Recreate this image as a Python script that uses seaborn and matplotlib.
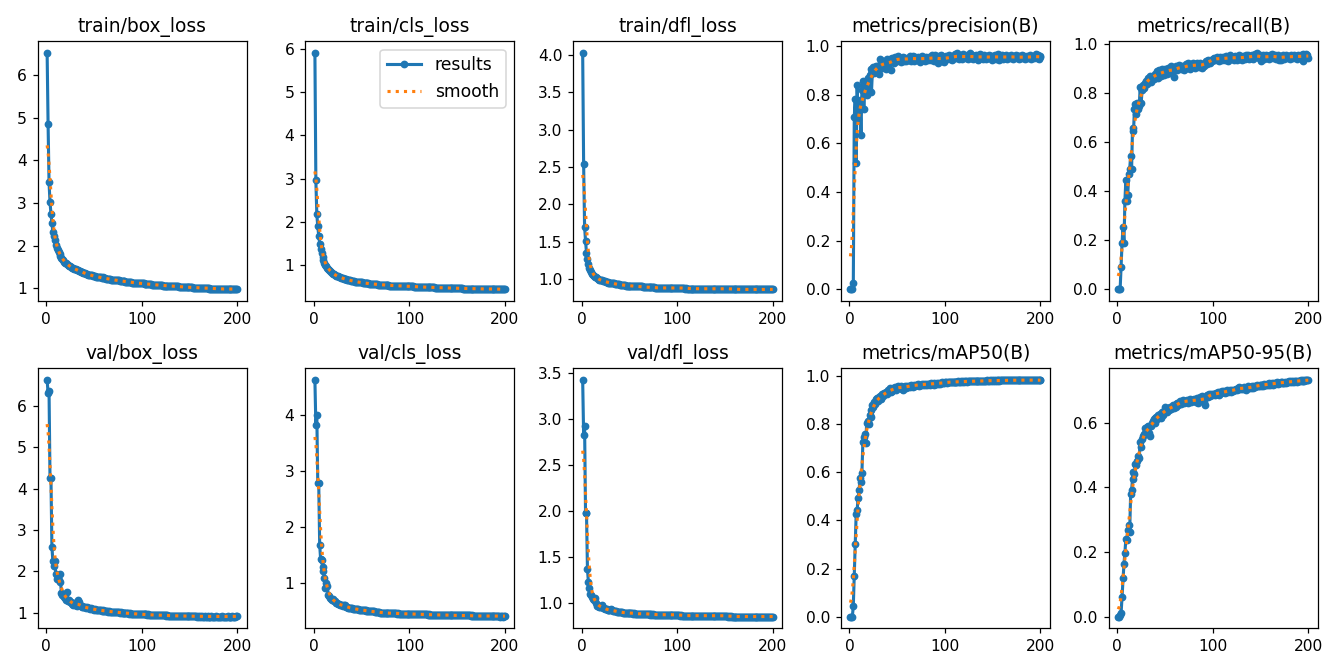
import numpy as np
import matplotlib
matplotlib.use("Agg")
import matplotlib.pyplot as plt
import seaborn as sns

epochs = list(range(1, 201))

train_box_loss = [
    6.52, 4.85, 3.48, 3.02, 2.75, 2.52, 2.32, 2.22, 2.12, 2.02,
    1.95, 1.89, 1.84, 1.79, 1.75, 1.71, 1.68, 1.65, 1.62, 1.60,
    1.58, 1.56, 1.54, 1.52, 1.51, 1.49, 1.48, 1.47, 1.46, 1.45,
    1.44, 1.43, 1.42, 1.41, 1.40, 1.39, 1.38, 1.37, 1.36, 1.35,
    1.35, 1.34, 1.33, 1.32, 1.32, 1.31, 1.30, 1.30, 1.29, 1.28,
    1.28, 1.27, 1.27, 1.26, 1.26, 1.25, 1.25, 1.24, 1.25, 1.24,
    1.23, 1.23, 1.22, 1.22, 1.22, 1.21, 1.21, 1.20, 1.20, 1.20,
    1.19, 1.19, 1.19, 1.18, 1.18, 1.18, 1.17, 1.17, 1.17, 1.16,
    1.16, 1.16, 1.15, 1.15, 1.15, 1.15, 1.14, 1.14, 1.14, 1.13,
    1.13, 1.13, 1.13, 1.12, 1.12, 1.12, 1.12, 1.11, 1.11, 1.11,
    1.11, 1.11, 1.10, 1.10, 1.10, 1.10, 1.09, 1.09, 1.09, 1.09,
    1.08, 1.08, 1.08, 1.08, 1.08, 1.07, 1.07, 1.07, 1.07, 1.07,
    1.07, 1.06, 1.06, 1.06, 1.06, 1.06, 1.05, 1.05, 1.05, 1.05,
    1.05, 1.05, 1.04, 1.04, 1.04, 1.04, 1.04, 1.04, 1.03, 1.03,
    1.03, 1.03, 1.03, 1.03, 1.03, 1.02, 1.02, 1.02, 1.02, 1.02,
    1.02, 1.02, 1.02, 1.01, 1.01, 1.01, 1.01, 1.01, 1.01, 1.01,
    1.01, 1.00, 1.00, 1.00, 1.00, 1.00, 1.00, 1.00, 1.00, 1.00,
    0.99, 0.99, 0.99, 0.99, 0.99, 0.99, 0.99, 0.99, 0.99, 0.99,
    0.99, 0.98, 0.98, 0.98, 0.98, 0.98, 0.98, 0.98, 0.98, 0.98,
    0.98, 0.98, 0.98, 0.98, 0.98, 0.98, 0.98, 0.97, 0.98, 0.98,
]

train_cls_loss = [
    5.90, 2.96, 2.17, 1.90, 1.68, 1.50, 1.38, 1.28, 1.19, 1.12,
    1.06, 1.01, 0.97, 0.94, 0.91, 0.88, 0.86, 0.84, 0.82, 0.80,
    0.79, 0.77, 0.76, 0.75, 0.74, 0.73, 0.72, 0.71, 0.71, 0.70,
    0.69, 0.68, 0.68, 0.67, 0.66, 0.66, 0.65, 0.65, 0.64, 0.64,
    0.63, 0.63, 0.62, 0.62, 0.62, 0.61, 0.61, 0.60, 0.60, 0.60,
    0.59, 0.59, 0.59, 0.58, 0.58, 0.58, 0.58, 0.57, 0.57, 0.57,
    0.57, 0.56, 0.56, 0.56, 0.56, 0.56, 0.55, 0.55, 0.55, 0.55,
    0.55, 0.55, 0.54, 0.54, 0.54, 0.54, 0.54, 0.54, 0.53, 0.53,
    0.53, 0.53, 0.53, 0.53, 0.53, 0.53, 0.52, 0.52, 0.52, 0.52,
    0.52, 0.52, 0.52, 0.52, 0.52, 0.51, 0.51, 0.51, 0.51, 0.51,
    0.51, 0.51, 0.51, 0.51, 0.50, 0.50, 0.50, 0.50, 0.50, 0.50,
    0.50, 0.50, 0.50, 0.50, 0.49, 0.49, 0.49, 0.49, 0.49, 0.49,
    0.49, 0.49, 0.49, 0.49, 0.49, 0.49, 0.48, 0.48, 0.48, 0.48,
    0.48, 0.48, 0.48, 0.48, 0.48, 0.48, 0.48, 0.48, 0.48, 0.47,
    0.47, 0.47, 0.47, 0.47, 0.47, 0.47, 0.47, 0.47, 0.47, 0.47,
    0.47, 0.47, 0.47, 0.47, 0.47, 0.46, 0.46, 0.46, 0.46, 0.46,
    0.46, 0.46, 0.46, 0.46, 0.46, 0.46, 0.46, 0.46, 0.46, 0.46,
    0.46, 0.46, 0.46, 0.45, 0.45, 0.45, 0.45, 0.45, 0.45, 0.45,
    0.45, 0.45, 0.45, 0.45, 0.45, 0.45, 0.45, 0.45, 0.45, 0.45,
    0.45, 0.45, 0.45, 0.45, 0.44, 0.44, 0.44, 0.44, 0.44, 0.44,
]

train_dfl_loss = [
    4.03, 2.54, 1.70, 1.51, 1.35, 1.27, 1.20, 1.15, 1.12, 1.09,
    1.07, 1.05, 1.04, 1.03, 1.02, 1.01, 1.00, 0.99, 0.99, 0.98,
    0.98, 0.97, 0.97, 0.97, 0.96, 0.96, 0.96, 0.95, 0.95, 0.95,
    0.94, 0.94, 0.94, 0.94, 0.93, 0.93, 0.93, 0.93, 0.93, 0.92,
    0.92, 0.92, 0.92, 0.92, 0.92, 0.91, 0.91, 0.91, 0.91, 0.91,
    0.91, 0.91, 0.91, 0.90, 0.90, 0.90, 0.90, 0.90, 0.90, 0.90,
    0.90, 0.90, 0.90, 0.89, 0.89, 0.89, 0.89, 0.89, 0.89, 0.89,
    0.89, 0.89, 0.89, 0.89, 0.89, 0.89, 0.88, 0.88, 0.88, 0.88,
    0.88, 0.88, 0.88, 0.88, 0.88, 0.88, 0.88, 0.88, 0.88, 0.88,
    0.88, 0.88, 0.88, 0.88, 0.88, 0.88, 0.88, 0.88, 0.88, 0.88,
    0.88, 0.88, 0.88, 0.88, 0.88, 0.88, 0.88, 0.87, 0.88, 0.87,
    0.87, 0.87, 0.87, 0.87, 0.87, 0.87, 0.87, 0.87, 0.87, 0.87,
    0.87, 0.87, 0.87, 0.87, 0.87, 0.87, 0.87, 0.87, 0.87, 0.87,
    0.87, 0.87, 0.87, 0.87, 0.87, 0.87, 0.87, 0.87, 0.87, 0.87,
    0.87, 0.87, 0.87, 0.87, 0.87, 0.87, 0.87, 0.87, 0.87, 0.87,
    0.87, 0.87, 0.87, 0.87, 0.87, 0.86, 0.87, 0.86, 0.87, 0.86,
    0.86, 0.86, 0.86, 0.86, 0.86, 0.86, 0.86, 0.86, 0.86, 0.86,
    0.86, 0.86, 0.86, 0.86, 0.86, 0.86, 0.86, 0.86, 0.86, 0.86,
    0.86, 0.86, 0.86, 0.86, 0.86, 0.86, 0.86, 0.86, 0.86, 0.86,
    0.86, 0.86, 0.86, 0.86, 0.86, 0.86, 0.86, 0.86, 0.86, 0.86,
]

precision = [
    0.000, 0.000, 0.000, 0.025, 0.708, 0.782, 0.520, 0.840, 0.700, 0.770,
    0.780, 0.635, 0.820, 0.855, 0.740, 0.830, 0.850, 0.800, 0.870, 0.820,
    0.880, 0.905, 0.810, 0.895, 0.915, 0.890, 0.912, 0.920, 0.900, 0.918,
    0.885, 0.948, 0.930, 0.910, 0.940, 0.932, 0.920, 0.905, 0.948, 0.935,
    0.930, 0.945, 0.902, 0.938, 0.950, 0.940, 0.932, 0.955, 0.945, 0.938,
    0.960, 0.942, 0.950, 0.935, 0.948, 0.955, 0.940, 0.952, 0.938, 0.946,
    0.950, 0.944, 0.958, 0.940, 0.952, 0.960, 0.945, 0.938, 0.955, 0.948,
    0.942, 0.956, 0.950, 0.936, 0.952, 0.958, 0.944, 0.950, 0.940, 0.955,
    0.948, 0.944, 0.956, 0.950, 0.942, 0.962, 0.948, 0.955, 0.940, 0.965,
    0.952, 0.945, 0.930, 0.958, 0.948, 0.962, 0.940, 0.955, 0.935, 0.950,
    0.958, 0.946, 0.952, 0.962, 0.948, 0.955, 0.944, 0.960, 0.952, 0.958,
    0.966, 0.950, 0.972, 0.955, 0.948, 0.962, 0.958, 0.945, 0.968, 0.955,
    0.960, 0.952, 0.965, 0.948, 0.958, 0.970, 0.950, 0.962, 0.945, 0.958,
    0.955, 0.965, 0.950, 0.960, 0.942, 0.958, 0.966, 0.952, 0.960, 0.948,
    0.962, 0.955, 0.945, 0.960, 0.952, 0.965, 0.950, 0.958, 0.944, 0.960,
    0.955, 0.962, 0.948, 0.958, 0.966, 0.950, 0.944, 0.960, 0.955, 0.962,
    0.948, 0.958, 0.952, 0.965, 0.946, 0.955, 0.960, 0.950, 0.962, 0.956,
    0.948, 0.960, 0.954, 0.962, 0.950, 0.958, 0.945, 0.960, 0.955, 0.950,
    0.962, 0.952, 0.958, 0.946, 0.955, 0.960, 0.950, 0.956, 0.962, 0.948,
    0.955, 0.960, 0.950, 0.958, 0.968, 0.952, 0.962, 0.948, 0.958, 0.955,
]

recall = [
    0.000, 0.000, 0.000, 0.090, 0.188, 0.255, 0.188, 0.362, 0.445, 0.362,
    0.385, 0.470, 0.490, 0.545, 0.490, 0.660, 0.645, 0.735, 0.755, 0.715,
    0.760, 0.735, 0.750, 0.825, 0.760, 0.812, 0.835, 0.820, 0.842, 0.850,
    0.840, 0.862, 0.855, 0.870, 0.848, 0.865, 0.872, 0.860, 0.880, 0.868,
    0.875, 0.890, 0.862, 0.895, 0.880, 0.870, 0.898, 0.885, 0.875, 0.900,
    0.892, 0.880, 0.905, 0.895, 0.885, 0.910, 0.898, 0.890, 0.865, 0.905,
    0.912, 0.900, 0.895, 0.908, 0.915, 0.902, 0.898, 0.910, 0.905, 0.895,
    0.912, 0.920, 0.905, 0.925, 0.912, 0.900, 0.918, 0.910, 0.922, 0.915,
    0.905, 0.920, 0.912, 0.925, 0.918, 0.908, 0.922, 0.915, 0.902, 0.920,
    0.912, 0.925, 0.930, 0.918, 0.935, 0.928, 0.922, 0.938, 0.932, 0.940,
    0.945, 0.935, 0.942, 0.950, 0.938, 0.945, 0.932, 0.948, 0.940, 0.935,
    0.950, 0.942, 0.938, 0.952, 0.945, 0.930, 0.948, 0.955, 0.940, 0.950,
    0.945, 0.938, 0.952, 0.942, 0.935, 0.948, 0.955, 0.940, 0.945, 0.950,
    0.938, 0.952, 0.945, 0.940, 0.955, 0.948, 0.958, 0.942, 0.950, 0.946,
    0.955, 0.940, 0.952, 0.960, 0.948, 0.965, 0.955, 0.945, 0.958, 0.950,
    0.932, 0.948, 0.955, 0.940, 0.952, 0.958, 0.945, 0.950, 0.942, 0.955,
    0.948, 0.960, 0.945, 0.952, 0.958, 0.942, 0.950, 0.955, 0.938, 0.948,
    0.935, 0.952, 0.945, 0.958, 0.940, 0.950, 0.955, 0.945, 0.952, 0.948,
    0.942, 0.955, 0.950, 0.945, 0.958, 0.948, 0.952, 0.940, 0.955, 0.950,
    0.945, 0.958, 0.952, 0.962, 0.930, 0.958, 0.950, 0.962, 0.955, 0.945,
]

val_box_loss = [
    6.63, 6.32, 6.36, 4.27, 4.27, 2.60, 2.25, 2.13, 2.25, 1.93,
    1.82, 1.88, 1.80, 1.93, 1.75, 1.47, 1.42, 1.45, 1.38, 1.35,
    1.30, 1.50, 1.28, 1.32, 1.25, 1.27, 1.22, 1.20, 1.23, 1.18,
    1.20, 1.16, 1.30, 1.26, 1.19, 1.17, 1.15, 1.16, 1.14, 1.13,
    1.14, 1.12, 1.13, 1.11, 1.12, 1.10, 1.11, 1.09, 1.10, 1.08,
    1.09, 1.07, 1.08, 1.07, 1.06, 1.07, 1.06, 1.05, 1.06, 1.05,
    1.05, 1.04, 1.05, 1.04, 1.03, 1.04, 1.03, 1.03, 1.02, 1.03,
    1.02, 1.02, 1.01, 1.02, 1.01, 1.01, 1.00, 1.01, 1.00, 1.00,
    1.00, 0.99, 1.00, 0.99, 0.99, 0.99, 0.98, 0.99, 0.98, 0.98,
    0.98, 0.98, 0.97, 0.98, 0.97, 0.97, 0.97, 0.97, 0.96, 0.97,
    0.96, 0.96, 0.96, 0.96, 0.96, 0.95, 0.96, 0.95, 0.95, 0.95,
    0.95, 0.95, 0.95, 0.95, 0.94, 0.95, 0.94, 0.94, 0.94, 0.94,
    0.94, 0.94, 0.94, 0.94, 0.94, 0.93, 0.94, 0.93, 0.93, 0.93,
    0.93, 0.93, 0.93, 0.93, 0.93, 0.93, 0.93, 0.93, 0.92, 0.93,
    0.92, 0.93, 0.92, 0.92, 0.92, 0.92, 0.92, 0.92, 0.92, 0.92,
    0.92, 0.92, 0.92, 0.92, 0.92, 0.92, 0.92, 0.91, 0.92, 0.91,
    0.92, 0.91, 0.92, 0.91, 0.91, 0.92, 0.91, 0.91, 0.92, 0.91,
    0.91, 0.91, 0.92, 0.91, 0.91, 0.91, 0.91, 0.92, 0.91, 0.91,
    0.91, 0.91, 0.91, 0.92, 0.91, 0.91, 0.91, 0.91, 0.91, 0.92,
    0.91, 0.91, 0.91, 0.91, 0.92, 0.91, 0.91, 0.91, 0.92, 0.92,
]

val_cls_loss = [
    4.62, 3.82, 4.00, 2.79, 2.79, 1.69, 1.43, 1.42, 1.30, 1.22,
    1.10, 0.92, 1.00, 0.96, 0.80, 0.77, 0.74, 0.72, 0.70, 0.72,
    0.69, 0.68, 0.66, 0.65, 0.64, 0.63, 0.62, 0.61, 0.61, 0.60,
    0.62, 0.61, 0.59, 0.58, 0.58, 0.57, 0.57, 0.56, 0.56, 0.56,
    0.55, 0.55, 0.55, 0.54, 0.54, 0.54, 0.53, 0.53, 0.53, 0.53,
    0.52, 0.52, 0.52, 0.52, 0.51, 0.51, 0.51, 0.51, 0.50, 0.50,
    0.50, 0.50, 0.50, 0.49, 0.49, 0.49, 0.49, 0.49, 0.48, 0.48,
    0.48, 0.48, 0.48, 0.48, 0.47, 0.47, 0.47, 0.47, 0.47, 0.47,
    0.47, 0.47, 0.47, 0.47, 0.47, 0.47, 0.46, 0.47, 0.46, 0.46,
    0.46, 0.46, 0.46, 0.46, 0.46, 0.46, 0.46, 0.46, 0.46, 0.46,
    0.46, 0.46, 0.45, 0.46, 0.45, 0.45, 0.45, 0.45, 0.45, 0.45,
    0.45, 0.45, 0.45, 0.45, 0.45, 0.45, 0.45, 0.45, 0.44, 0.45,
    0.44, 0.44, 0.44, 0.44, 0.44, 0.44, 0.44, 0.44, 0.44, 0.44,
    0.44, 0.44, 0.44, 0.44, 0.44, 0.44, 0.44, 0.44, 0.44, 0.44,
    0.44, 0.43, 0.44, 0.43, 0.43, 0.43, 0.43, 0.43, 0.43, 0.43,
    0.43, 0.43, 0.43, 0.43, 0.43, 0.43, 0.43, 0.43, 0.43, 0.43,
    0.43, 0.43, 0.43, 0.42, 0.43, 0.42, 0.42, 0.42, 0.42, 0.42,
    0.42, 0.42, 0.42, 0.42, 0.42, 0.42, 0.42, 0.42, 0.42, 0.42,
    0.42, 0.42, 0.42, 0.42, 0.42, 0.42, 0.42, 0.42, 0.42, 0.42,
    0.42, 0.42, 0.42, 0.42, 0.41, 0.42, 0.42, 0.41, 0.42, 0.42,
]

val_dfl_loss = [
    3.42, 2.82, 2.92, 1.97, 1.97, 1.37, 1.22, 1.16, 1.10, 1.08,
    1.06, 1.04, 1.03, 1.05, 1.00, 0.97, 0.96, 0.95, 0.95, 0.96,
    0.98, 0.94, 0.94, 0.93, 0.93, 0.93, 0.92, 0.92, 0.92, 0.92,
    0.93, 0.92, 0.91, 0.91, 0.91, 0.91, 0.90, 0.90, 0.90, 0.90,
    0.90, 0.90, 0.89, 0.89, 0.89, 0.89, 0.89, 0.89, 0.89, 0.89,
    0.89, 0.89, 0.89, 0.88, 0.89, 0.88, 0.88, 0.88, 0.88, 0.88,
    0.88, 0.88, 0.88, 0.88, 0.88, 0.88, 0.88, 0.88, 0.88, 0.88,
    0.88, 0.87, 0.88, 0.87, 0.88, 0.87, 0.87, 0.87, 0.87, 0.87,
    0.87, 0.87, 0.87, 0.87, 0.87, 0.87, 0.87, 0.87, 0.87, 0.87,
    0.87, 0.87, 0.87, 0.87, 0.87, 0.87, 0.87, 0.87, 0.87, 0.87,
    0.87, 0.87, 0.86, 0.87, 0.86, 0.86, 0.86, 0.86, 0.86, 0.86,
    0.86, 0.86, 0.86, 0.86, 0.86, 0.86, 0.86, 0.86, 0.86, 0.86,
    0.86, 0.86, 0.86, 0.86, 0.86, 0.86, 0.86, 0.86, 0.86, 0.86,
    0.86, 0.86, 0.86, 0.86, 0.86, 0.86, 0.86, 0.86, 0.86, 0.86,
    0.86, 0.86, 0.86, 0.86, 0.86, 0.86, 0.86, 0.86, 0.86, 0.86,
    0.86, 0.86, 0.85, 0.86, 0.85, 0.86, 0.85, 0.85, 0.85, 0.85,
    0.85, 0.85, 0.85, 0.85, 0.85, 0.85, 0.85, 0.85, 0.85, 0.85,
    0.85, 0.85, 0.85, 0.85, 0.85, 0.85, 0.85, 0.85, 0.85, 0.85,
    0.85, 0.85, 0.85, 0.85, 0.85, 0.85, 0.85, 0.85, 0.85, 0.85,
    0.85, 0.85, 0.85, 0.85, 0.85, 0.85, 0.85, 0.85, 0.85, 0.85,
]

map50 = [
    0.000, 0.000, 0.000, 0.045, 0.170, 0.302, 0.428, 0.442, 0.495, 0.525,
    0.575, 0.560, 0.598, 0.725, 0.748, 0.762, 0.722, 0.805, 0.815, 0.800,
    0.840, 0.862, 0.830, 0.880, 0.872, 0.892, 0.885, 0.905, 0.912, 0.898,
    0.915, 0.920, 0.905, 0.925, 0.918, 0.930, 0.928, 0.935, 0.925, 0.942,
    0.938, 0.950, 0.935, 0.945, 0.940, 0.952, 0.948, 0.955, 0.942, 0.958,
    0.960, 0.950, 0.955, 0.962, 0.948, 0.945, 0.958, 0.960, 0.952, 0.962,
    0.958, 0.962, 0.955, 0.965, 0.960, 0.962, 0.958, 0.965, 0.962, 0.966,
    0.964, 0.968, 0.962, 0.966, 0.965, 0.968, 0.964, 0.970, 0.966, 0.968,
    0.965, 0.970, 0.968, 0.966, 0.972, 0.968, 0.970, 0.966, 0.972, 0.970,
    0.968, 0.972, 0.970, 0.974, 0.970, 0.972, 0.975, 0.972, 0.974, 0.975,
    0.976, 0.974, 0.976, 0.977, 0.975, 0.976, 0.978, 0.976, 0.977, 0.978,
    0.977, 0.978, 0.976, 0.979, 0.978, 0.977, 0.979, 0.978, 0.980, 0.978,
    0.979, 0.980, 0.978, 0.980, 0.979, 0.980, 0.981, 0.979, 0.980, 0.981,
    0.980, 0.981, 0.980, 0.982, 0.981, 0.980, 0.982, 0.981, 0.982, 0.981,
    0.982, 0.981, 0.982, 0.983, 0.982, 0.981, 0.983, 0.982, 0.983, 0.982,
    0.983, 0.982, 0.983, 0.982, 0.984, 0.983, 0.982, 0.983, 0.984, 0.983,
    0.984, 0.983, 0.984, 0.983, 0.984, 0.985, 0.984, 0.983, 0.984, 0.985,
    0.984, 0.985, 0.984, 0.983, 0.984, 0.985, 0.984, 0.985, 0.984, 0.985,
    0.985, 0.984, 0.985, 0.984, 0.985, 0.984, 0.985, 0.984, 0.985, 0.985,
    0.984, 0.985, 0.984, 0.985, 0.984, 0.985, 0.984, 0.985, 0.984, 0.984,
]

map50_95 = [
    0.000, 0.000, 0.005, 0.010, 0.062, 0.120, 0.163, 0.198, 0.240, 0.238,
    0.268, 0.282, 0.262, 0.378, 0.392, 0.425, 0.448, 0.440, 0.472, 0.468,
    0.480, 0.498, 0.492, 0.540, 0.525, 0.548, 0.560, 0.565, 0.582, 0.575,
    0.588, 0.590, 0.568, 0.558, 0.590, 0.600, 0.605, 0.612, 0.598, 0.615,
    0.618, 0.610, 0.625, 0.620, 0.628, 0.615, 0.632, 0.625, 0.635, 0.648,
    0.640, 0.632, 0.645, 0.638, 0.650, 0.642, 0.648, 0.655, 0.645, 0.652,
    0.658, 0.650, 0.662, 0.655, 0.660, 0.668, 0.658, 0.665, 0.670, 0.662,
    0.668, 0.665, 0.670, 0.662, 0.668, 0.672, 0.665, 0.670, 0.668, 0.672,
    0.670, 0.665, 0.675, 0.668, 0.660, 0.672, 0.678, 0.670, 0.682, 0.675,
    0.665, 0.655, 0.680, 0.685, 0.678, 0.688, 0.682, 0.690, 0.685, 0.688,
    0.690, 0.685, 0.692, 0.688, 0.694, 0.690, 0.686, 0.695, 0.692, 0.697,
    0.694, 0.698, 0.692, 0.696, 0.700, 0.694, 0.698, 0.702, 0.696, 0.700,
    0.698, 0.702, 0.700, 0.705, 0.702, 0.708, 0.704, 0.710, 0.706, 0.704,
    0.708, 0.705, 0.710, 0.706, 0.702, 0.708, 0.712, 0.706, 0.710, 0.708,
    0.712, 0.708, 0.714, 0.710, 0.712, 0.716, 0.712, 0.715, 0.718, 0.714,
    0.716, 0.718, 0.714, 0.720, 0.716, 0.718, 0.720, 0.716, 0.722, 0.718,
    0.720, 0.722, 0.718, 0.724, 0.720, 0.722, 0.725, 0.721, 0.724, 0.722,
    0.725, 0.722, 0.726, 0.724, 0.722, 0.726, 0.724, 0.727, 0.725, 0.728,
    0.726, 0.728, 0.725, 0.729, 0.727, 0.728, 0.730, 0.727, 0.729, 0.730,
    0.728, 0.731, 0.729, 0.730, 0.732, 0.730, 0.731, 0.732, 0.731, 0.732,
]

titles = [
    "train/box_loss", "train/cls_loss", "train/dfl_loss",
    "metrics/precision(B)", "metrics/recall(B)",
    "val/box_loss", "val/cls_loss", "val/dfl_loss",
    "metrics/mAP50(B)", "metrics/mAP50-95(B)",
]
series = [
    train_box_loss, train_cls_loss, train_dfl_loss, precision, recall,
    val_box_loss, val_cls_loss, val_dfl_loss, map50, map50_95,
]


def gaussian_smooth(y, sigma=3.0, truncate=4.0):
    y = np.asarray(y, dtype=float)
    r = int(truncate * sigma + 0.5)
    k = np.arange(-r, r + 1)
    w = np.exp(-0.5 * (k / sigma) ** 2)
    w /= w.sum()
    yp = np.pad(y, r, mode="symmetric")
    return np.convolve(yp, w, mode="valid")


fig, axes = plt.subplots(2, 5, figsize=(12, 6.0045), dpi=111.75)
axes = axes.ravel()
x = np.array(epochs)
for i, (ax, title, y) in enumerate(zip(axes, titles, series)):
    y = np.array(y, dtype=float)
    sns.lineplot(x=x, y=y, ax=ax, marker=".", markersize=8, linewidth=2,
                 color="#1f77b4", markeredgecolor="#1f77b4", markeredgewidth=1,
                 label="results", errorbar=None, sort=False)
    sns.lineplot(x=x, y=gaussian_smooth(y), ax=ax, linestyle=":", linewidth=2,
                 color="#ff7f0e", label="smooth", errorbar=None, sort=False)
    ax.set_title(title, fontsize=12)
    ax.set_xlabel("")
    ax.set_ylabel("")
    leg = ax.get_legend()
    if leg is not None:
        leg.remove()

axes[1].legend(loc="upper right", fontsize=11)
fig.tight_layout()
fig.savefig("out.png", dpi=111.75)
